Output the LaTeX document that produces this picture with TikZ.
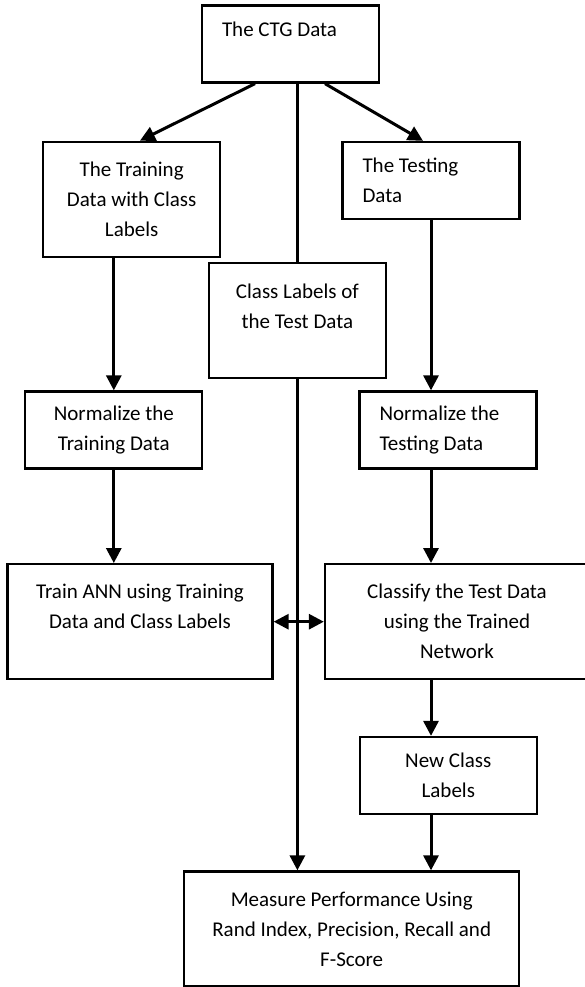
\documentclass[tikz,border=0pt]{standalone}
\usepackage{fontspec}
\setmainfont{Carlito}
\usetikzlibrary{arrows.meta, positioning}

\begin{document}
\begin{tikzpicture}[
    x=1pt, y=-1pt,
    >={Triangle[length=15pt, width=15pt]},
    every node/.style={font=\fontsize{21}{30}\selectfont},
    cbox/.style={draw, line width=2.3pt, minimum width=177pt, minimum height=77pt,
        inner xsep=8pt, align=center},
    tallbox/.style={cbox, minimum height=115pt},
    lbox/.style={draw, line width=2.3pt, minimum height=77pt,
        text width=137pt, inner xsep=20pt, align=flush left},
    arw/.style={->, line width=3pt},
    ln/.style={line width=3pt},
]
\useasboundingbox (0,0) rectangle (584,987);

% === Data ===
\node[lbox] (ctg) at (290.5,44) {The CTG Data\\ \mbox{}};

\node[tallbox] (train) at (131.7,199.3) {The Training\\Data with Class\\Labels};
\node[lbox] (test) at (431,180.5) {The Testing\\Data};
\node[tallbox] (labels) at (297.4,320.8) {Class Labels of\\the Test Data\\ \mbox{}};

% === Normalize ===
\node[cbox] (normtrain) at (113.8,430) {Normalize the\\Training Data};
\node[lbox] (normtest) at (448,430) {Normalize the\\Testing Data};

% === Train / classify ===
\node[tallbox, minimum width=265pt] (ann) at (140,621.7)
    {Train ANN using Training\\Data and Class Labels\\ \mbox{}};
\node[tallbox, minimum width=264pt] (classify) at (457,621.7)
    {Classify the Test Data\\using the Trained\\Network};
\node[cbox] (newlab) at (448.3,775.5) {New Class\\Labels};

% === Evaluation ===
\node[tallbox, minimum width=335pt] (measure) at (351.7,929)
    {Measure Performance Using\\Rand Index, Precision, Recall and\\F-Score};

% Split of the data
\draw[arw] ([xshift=-35.5pt]ctg.south) -- ([xshift=8.3pt]train.north);
\draw[arw] ([xshift=34.5pt]ctg.south) -- ([xshift=-8pt]test.north);
\draw[ln] (ctg.south -| labels.north) -- (labels.north);
\draw[arw] (labels.south) -- (labels.south |- measure.north);

% Left and right columns
\draw[arw] (train.south -| normtrain.north) -- (normtrain.north);
\draw[arw] (normtrain.south) -- (normtrain.south |- ann.north);
\draw[arw] (test.south) -- (test.south |- normtest.north);
\draw[arw] (test.south |- normtest.south) -- (test.south |- classify.north);
\draw[arw] (test.south |- classify.south) -- (test.south |- newlab.north);
\draw[arw] (test.south |- newlab.south) -- (test.south |- measure.north);
\draw[arw, <->] (ann.east) -- (classify.west);

\end{tikzpicture}
\end{document}
